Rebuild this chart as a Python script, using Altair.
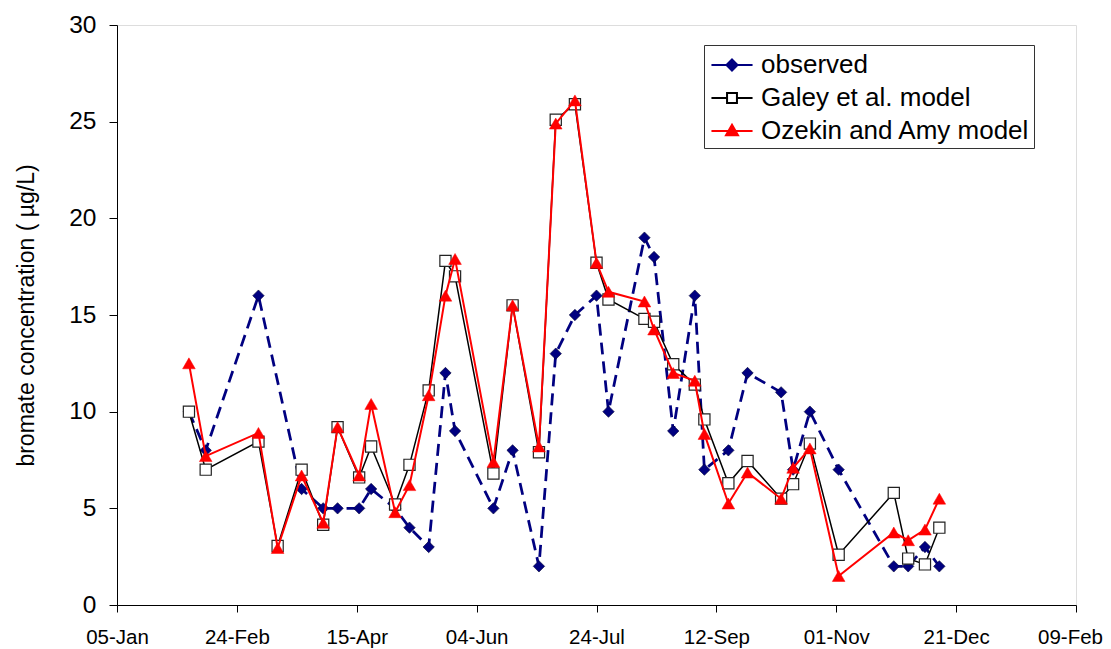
import altair as alt
import pandas as pd

# ---- data ----
dates = ["2001-02-04", "2001-02-11", "2001-03-05", "2001-03-13", "2001-03-23", "2001-04-01",
         "2001-04-07", "2001-04-16", "2001-04-21", "2001-05-01", "2001-05-07", "2001-05-15",
         "2001-05-22", "2001-05-26", "2001-06-11", "2001-06-19", "2001-06-30", "2001-07-07",
         "2001-07-15", "2001-07-24", "2001-07-29", "2001-08-13", "2001-08-17", "2001-08-25",
         "2001-09-03", "2001-09-07", "2001-09-17", "2001-09-25", "2001-10-09", "2001-10-14",
         "2001-10-21", "2001-11-02", "2001-11-25", "2001-12-01", "2001-12-08", "2001-12-14"]
observed = [10, 8, 16, None, 6, 5, 5, 5, 6, 5, 4, 3, 12, 9, 5, 8, 2, 13,
            15, 16, 10, 19, 18, 9, 16, 7, 8, 12, 11, 7, 10, 7, 2, 2, 3, 2]
galey = [10.0, 7.0, 8.45, 3.05, 7.0, 4.15, 9.2, 6.6, 8.2, 5.2, 7.25, 11.1, 17.8, 17.0, 6.8, 15.5,
         7.9, 25.1, 25.9, 17.7, 15.8, 14.8, 14.65, 12.45, 11.4, 9.6, 6.3, 7.45, 5.5, 6.25, 8.35,
         2.6, 5.8, 2.4, 2.1, 4.0]
ozekin = [12.5, 7.7, 8.9, 2.95, 6.7, 4.25, 9.2, 6.7, 10.4, 4.8, 6.2, 10.85, 16.0, 17.9, 7.4, 15.5,
          8.2, 24.9, 26.1, 17.7, 16.2, 15.7, 14.25, 12.0, 11.6, 8.85, 5.25, 6.85, 5.5, 7.1, 8.1,
          1.5, 3.75, 3.35, 3.9, 5.5]
series_names = ["observed", "Galey et al. model", "Ozekin and Amy model"]
x_ticks = ["2001-01-05", "2001-02-24", "2001-04-15", "2001-06-04", "2001-07-24",
           "2001-09-12", "2001-11-01", "2001-12-21", "2002-02-09"]
y_ticks = [0, 5, 10, 15, 20, 25, 30]

df = pd.DataFrame({"date": pd.to_datetime(dates), "observed": observed,
                   "galey": galey, "ozekin": ozekin})

FONT = "Liberation Sans"


def dt(s):
    y, m, d = (int(p) for p in s.split("-"))
    return alt.DateTime(year=y, month=m, date=d)


x_enc = alt.X("date:T",
              scale=alt.Scale(domain=[dt(x_ticks[0]), dt(x_ticks[-1])], nice=False),
              axis=alt.Axis(values=[dt(s) for s in x_ticks], format="%d-%b", title=None,
                            grid=False, tickSize=7, labelPadding=15, labelFontSize=20.5,
                            labelFont=FONT, labelColor="black", domainColor="black",
                            tickColor="black", labelFlush=False, labelOverlap=False,
                            labelOffset={"condition": {"test": "datum.value > datetime(2002, 0, 20)",
                                                       "value": -6},
                                         "value": 0}))

y_axis = alt.Axis(values=y_ticks, title="bromate concentration ( µg/L)", grid=False,
                  tickSize=8, labelPadding=13, labelFontSize=24.5, labelFont=FONT,
                  labelColor="black", titleFont=FONT, titleFontSize=23,
                  titleFontWeight="normal", titleColor="black", titleAngle=270,
                  titleX=-84, titleY=290, titleBaseline="alphabetic", titleAlign="center",
                  domainColor="black", tickColor="black")
y_scale = alt.Scale(domain=[0, 30], nice=False)

base = alt.Chart(df)


def yenc(field):
    return alt.Y(f"{field}:Q", scale=y_scale, axis=y_axis)


obs_src = base.transform_filter("isValid(datum.observed)")
obs_line = obs_src.mark_line(color="#000080", strokeWidth=2.75, strokeDash=[12, 7]).encode(
    x=x_enc, y=yenc("observed"))
obs_pts = obs_src.mark_point(shape="diamond", size=130, filled=True, fill="#000080",
                             stroke="#000033", strokeWidth=0.6, opacity=1).encode(
    x=x_enc, y=yenc("observed"))

gal_line = base.mark_line(color="black", strokeWidth=1.5).encode(x=x_enc, y=yenc("galey"))
gal_pts = base.mark_point(shape="square", size=125, filled=True, fill="white",
                          stroke="#222222", strokeWidth=1.2, opacity=1).encode(
    x=x_enc, y=yenc("galey"))

oz_line = base.mark_line(color="#ff0000", strokeWidth=2).encode(x=x_enc, y=yenc("ozekin"))
oz_pts = base.mark_point(shape="triangle-up", size=160, filled=True, fill="#ff0000",
                         stroke="#ff0000", strokeWidth=0.5, opacity=1).encode(
    x=x_enc, y=yenc("ozekin"))

legend_shapes = [
    "M-1.37,0H1.37M0,-0.37L0.37,0L0,0.37L-0.37,0Z",
    "M-1.37,0H-0.33M0.33,0H1.37M-0.33,-0.33H0.33V0.33H-0.33Z",
    "M-1.37,0H1.37M0,-0.42L0.4,0.28L-0.4,0.28Z",
]
leg = alt.Chart(pd.DataFrame({"series": series_names})).transform_filter("false").mark_point(
    filled=True, opacity=1).encode(
    shape=alt.Shape("series:N", scale=alt.Scale(domain=series_names, range=legend_shapes),
                    legend=alt.Legend(title=None, orient="none", legendX=587, legendY=20,
                                      strokeColor="#333333", fillColor="white", padding=4,
                                      symbolSize=900, symbolStrokeWidth=2, symbolOffset=8,
                                      labelOffset=13, rowPadding=4, labelFont=FONT,
                                      labelFontSize=26, labelColor="black",
                                      labelLimit=500)),
    fill=alt.Fill("series:N", scale=alt.Scale(domain=series_names,
                                              range=["#000080", "#ffffff", "#ff0000"])),
    stroke=alt.Stroke("series:N", scale=alt.Scale(domain=series_names,
                                                  range=["#000080", "#000000", "#ff0000"])),
)

chart = alt.layer(obs_line, obs_pts, gal_line, gal_pts, oz_line, oz_pts, leg).properties(
    width=959, height=580,
    autosize=alt.AutoSizeParams(type="none"),
    padding={"left": 109, "top": 17, "right": 27, "bottom": 44},
).configure_view(stroke="#808080", strokeWidth=1).configure(background="white")

chart.save("out.html", embed_options={"renderer": "svg", "actions": False})
